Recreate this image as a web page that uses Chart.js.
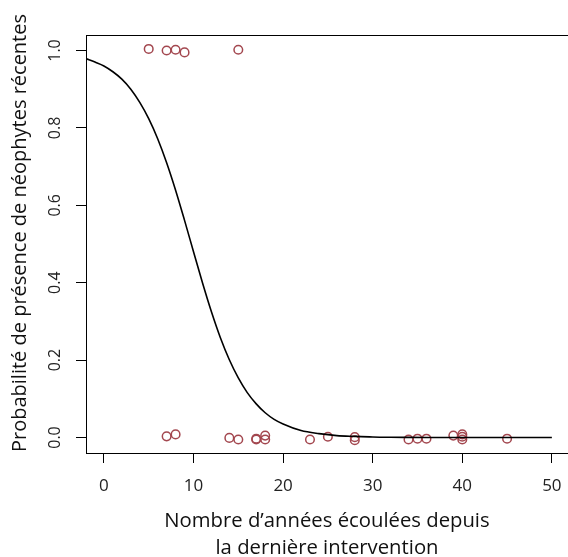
<!DOCTYPE html>
<html>
<head>
<meta charset="utf-8">
<script src="https://cdn.jsdelivr.net/npm/chart.js@4"></script>
<style>
  html, body { margin: 0; padding: 0; background: #fff; overflow: hidden; }
  #chart { display: block; }
</style>
</head>
<body>
<canvas id="chart" width="568" height="557"></canvas>
<script>
// observed points (years since last intervention, presence 0/1 slightly jittered)
const obsX = [5, 7, 8, 9, 15,
  7, 8, 14, 15, 17, 17, 18, 18, 23, 25, 28, 28, 34, 35, 36, 39, 40, 40, 40, 45]
const obsY = [1.004, 1.0, 1.002, 0.995, 1.002,
  0.003, 0.008, -0.001, -0.005, -0.005, -0.003, 0.005, -0.005, -0.005, 0.002, 0.001, -0.007,
  -0.005, -0.003, -0.003, 0.005, 0.008, -0.005, 0.002, -0.003]

// fitted curve
const curveX = [-2, -1, 0, 1, 2, 3, 4, 5, 6, 7, 8, 9, 10, 11, 12, 13, 14, 15, 16, 17, 18, 19, 20,
  22, 24, 26, 28, 30, 32, 34, 36, 38, 40, 45, 50]
const curveY = [0.979, 0.970, 0.960, 0.945, 0.926, 0.900, 0.866, 0.824, 0.772, 0.710, 0.639, 0.561,
  0.480, 0.400, 0.325, 0.258, 0.201, 0.154, 0.116, 0.087, 0.064, 0.047, 0.035,
  0.018, 0.010, 0.005, 0.003, 0.0014, 0.0007, 0.0004, 0.0002, 0.0001, 0.0001, 0, 0]

const xTicks = [0, 10, 20, 30, 40, 50]
const yTicks = [0, 0.2, 0.4, 0.6, 0.8, 1.0]

const FONT = "'Open Sans', 'Noto Sans', sans-serif"
const pointColor = "#a3474f"

// top edge of the box + rotated y tick labels like base R
// (the right edge of the original box falls just outside the picture)
const boxAndLabels = {
  id: "boxAndLabels",
  afterDraw(chart) {
    const { ctx, chartArea, scales } = chart
    ctx.save()
    ctx.strokeStyle = "#000"
    ctx.lineWidth = 1
    ctx.beginPath()
    ctx.moveTo(chartArea.left, chartArea.top + 0.5)
    ctx.lineTo(chartArea.right, chartArea.top + 0.5)
    ctx.stroke()

    ctx.fillStyle = "#222"
    ctx.font = "16px " + FONT
    ctx.textAlign = "center"
    ctx.textBaseline = "middle"
    yTicks.forEach((v) => {
      const y = scales.y.getPixelForValue(v)
      ctx.save()
      ctx.translate(55, y)
      ctx.rotate(-Math.PI / 2)
      ctx.fillText(v.toFixed(1), 0, 0)
      ctx.restore()
    })

    // y axis title, centred a little above the plot middle as in the original
    ctx.fillStyle = "#111"
    ctx.font = "20px " + FONT
    ctx.save()
    ctx.translate(20, 233)
    ctx.rotate(-Math.PI / 2)
    ctx.fillText("Probabilit\u00e9 de pr\u00e9sence de n\u00e9ophytes r\u00e9centes", 0, 0)
    ctx.restore()
    ctx.restore()
  },
}

new Chart(document.getElementById("chart"), {
  type: "scatter",
  data: {
    datasets: [
      {
        type: "line",
        data: curveX.map((x, i) => ({ x: x, y: curveY[i] })),
        borderColor: "#000",
        borderWidth: 1.6,
        pointRadius: 0,
        fill: false,
        cubicInterpolationMode: "monotone",
      },
      {
        data: obsX.map((x, i) => ({ x: x, y: obsY[i] })),
        pointStyle: "circle",
        pointRadius: 4.3,
        pointBorderWidth: 1.5,
        pointBorderColor: pointColor,
        pointBackgroundColor: "rgba(0,0,0,0)",
      },
    ],
  },
  options: {
    responsive: false,
    animation: false,
    layout: { autoPadding: false, padding: { top: 35, right: 0, left: 0, bottom: 0 } },
    plugins: {
      legend: { display: false },
      tooltip: { enabled: false },
    },
    scales: {
      x: {
        type: "linear",
        min: -2,
        max: 51.8,
        afterFit: (scale) => {
          scale.height = 104
          scale.paddingLeft = 0
          scale.paddingRight = 0
        },
        afterBuildTicks: (scale) => { scale.ticks = xTicks.map((v) => ({ value: v })) },
        grid: { drawOnChartArea: false, drawTicks: true, tickLength: 10, color: "#000" },
        border: { display: true, color: "#000", width: 1 },
        ticks: {
          color: "#222",
          padding: 13,
          maxRotation: 0,
          font: { family: FONT, size: 17 },
          callback: (v) => v,
        },
        title: {
          display: true,
          text: ["Nombre d\u2019ann\u00e9es \u00e9coul\u00e9es depuis", "la derni\u00e8re intervention"],
          color: "#111",
          font: { family: FONT, size: 20.3, lineHeight: 1.3 },
          padding: { top: 0, bottom: -4 },
        },
      },
      y: {
        type: "linear",
        min: -0.04,
        max: 1.04,
        afterFit: (scale) => {
          scale.width = 86
          scale.paddingTop = 0
          scale.paddingBottom = 0
        },
        afterBuildTicks: (scale) => { scale.ticks = yTicks.map((v) => ({ value: v })) },
        grid: { drawOnChartArea: false, drawTicks: true, tickLength: 10, color: "#000" },
        border: { display: true, color: "#000", width: 1 },
        ticks: { display: false },
        title: { display: false },
      },
    },
  },
  plugins: [boxAndLabels],
})
</script>
</body>
</html>
